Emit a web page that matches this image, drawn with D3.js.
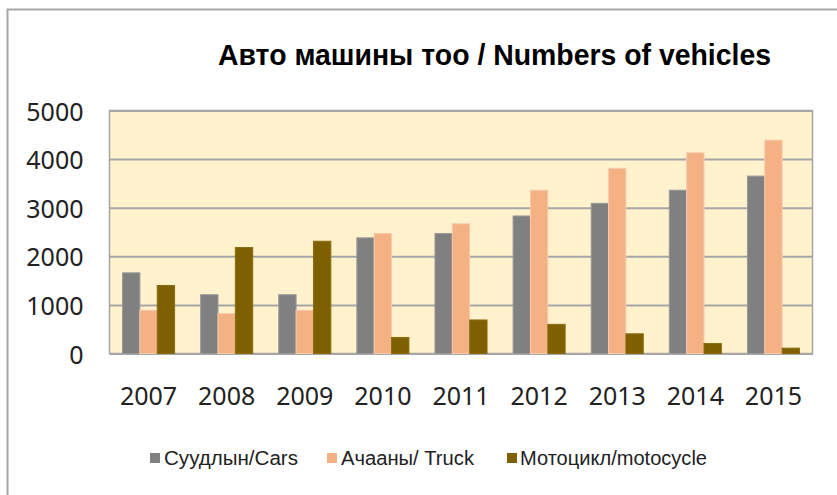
<!DOCTYPE html>
<html>
<head>
<meta charset="utf-8">
<script src="https://cdn.jsdelivr.net/npm/d3@7"></script>
<style>
	body { margin: 0; background: #fff; }
	svg { display: block; }
</style>
</head>
<body>
<div id="chart"></div>
<script>
const years = ["2007", "2008", "2009", "2010", "2011", "2012", "2013", "2014", "2015"];
const series_names = ["Суудлын/Cars", "Ачааны/ Truck", "Мотоцикл/motocycle"];
const cars = [1660, 1210, 1210, 2380, 2470, 2830, 3090, 3360, 3650];
const trucks = [890, 820, 890, 2470, 2670, 3360, 3810, 4130, 4390];
const motos = [1400, 2180, 2310, 330, 690, 600, 405, 205, 110];
const y_ticks = [0, 1000, 2000, 3000, 4000, 5000];
const colors = ["#808080", "#F4B183", "#7F6000"];
const strokes = ["#9a9a9a", "#F8CBAD", "#8c6d10"];

const W = 837, H = 495;
const plot = { left: 109.5, right: 812.5, top: 110.5, bottom: 353.5 };

const data = years.map((y, i) => ({ year: y, values: [cars[i], trucks[i], motos[i]] }));

const x0 = d3.scaleBand()
	.domain(years)
	.range([plot.left, plot.right])
	.paddingInner(1 / 3)
	.paddingOuter(1 / 6);
const x1 = d3.scaleBand()
	.domain(d3.range(series_names.length))
	.range([0, x0.bandwidth()]);
const y_scale = d3.scaleLinear().domain([0, 5000]).range([plot.bottom, plot.top]);

const svg = d3.select("#chart")
	.append("svg")
	.attr("width", W)
	.attr("height", H);

// outer frame (only top and left show)
svg.append("path")
	.attr("d", "M7.5," + H + "V9.5H" + W)
	.attr("fill", "none")
	.attr("stroke", "#a6a6a6")
	.attr("stroke-width", 2);

svg.append("text")
	.attr("x", 218)
	.attr("y", 65)
	.attr("font-family", "'Liberation Sans', Arial, sans-serif")
	.attr("font-weight", "bold")
	.attr("font-size", 29)
	.attr("textLength", 553)
	.attr("lengthAdjust", "spacingAndGlyphs")
	.attr("fill", "#000")
	.text("Авто машины тоо / Numbers of vehicles");

svg.append("rect")
	.attr("x", plot.left)
	.attr("y", plot.top)
	.attr("width", plot.right - plot.left)
	.attr("height", plot.bottom - plot.top)
	.attr("fill", "#FFF2CC")
	.attr("stroke", "#a6a6a6")
	.attr("stroke-width", 1.5);

const y_axis = d3.axisLeft(y_scale)
	.tickValues(y_ticks)
	.tickSize(-(plot.right - plot.left))
	.tickPadding(26)
	.tickFormat(d3.format("d"));

svg.append("g")
	.attr("class", "y axis")
	.attr("transform", "translate(" + plot.left + ",0)")
	.call(y_axis)
	.call(g => g.select(".domain").remove())
	.call(g => g.selectAll(".tick line").attr("stroke", "#a6a6a6").attr("stroke-width", 2))
	.call(g => g.selectAll(".tick text")
		.attr("font-family", "'Noto Sans', 'Open Sans', sans-serif")
		.attr("font-size", 25)
		.attr("fill", "#222")
		.attr("dy", "0.38em"));

const x_axis = d3.axisBottom(x0).tickSize(0).tickPadding(0);

svg.append("g")
	.attr("class", "x axis")
	.attr("transform", "translate(0," + plot.bottom + ")")
	.call(x_axis)
	.call(g => g.select(".domain").attr("stroke", "#a6a6a6").attr("stroke-width", 2))
	.call(g => g.selectAll(".tick text")
		.attr("font-family", "'Noto Sans', 'Open Sans', sans-serif")
		.attr("font-size", 25)
		.attr("fill", "#222")
		.attr("dy", null)
		.attr("y", 51));

const groups = svg.append("g")
	.selectAll("g")
	.data(data)
	.join("g")
	.attr("transform", d => "translate(" + x0(d.year) + ",0)");

groups.selectAll("rect")
	.data(d => d.values.map((v, i) => ({ i: i, v: v })))
	.join("rect")
	.attr("x", d => x1(d.i))
	.attr("y", d => y_scale(d.v))
	.attr("width", x1.bandwidth())
	.attr("height", d => y_scale(0) - y_scale(d.v))
	.attr("fill", d => colors[d.i])
	.attr("stroke", d => strokes[d.i])
	.attr("stroke-width", 1);

const legend_x = [150, 327, 507];
const legend_len = [134, 133, 187];

const legend = svg.append("g")
	.selectAll("g")
	.data(series_names)
	.join("g")
	.attr("transform", (d, i) => "translate(" + legend_x[i] + ",458)");

legend.append("rect")
	.attr("x", 0)
	.attr("y", -5)
	.attr("width", 10)
	.attr("height", 10)
	.attr("fill", (d, i) => colors[i]);

legend.append("text")
	.attr("x", (d, i) => i == 2 ? 13 : 14)
	.attr("y", 0)
	.attr("dy", "0.36em")
	.attr("font-family", "'Liberation Sans Narrow', 'Liberation Sans', Arial, sans-serif")
	.attr("font-size", 20)
	.attr("textLength", (d, i) => legend_len[i])
	.attr("lengthAdjust", "spacingAndGlyphs")
	.attr("fill", "#222")
	.text(d => d);
</script>
</body>
</html>
